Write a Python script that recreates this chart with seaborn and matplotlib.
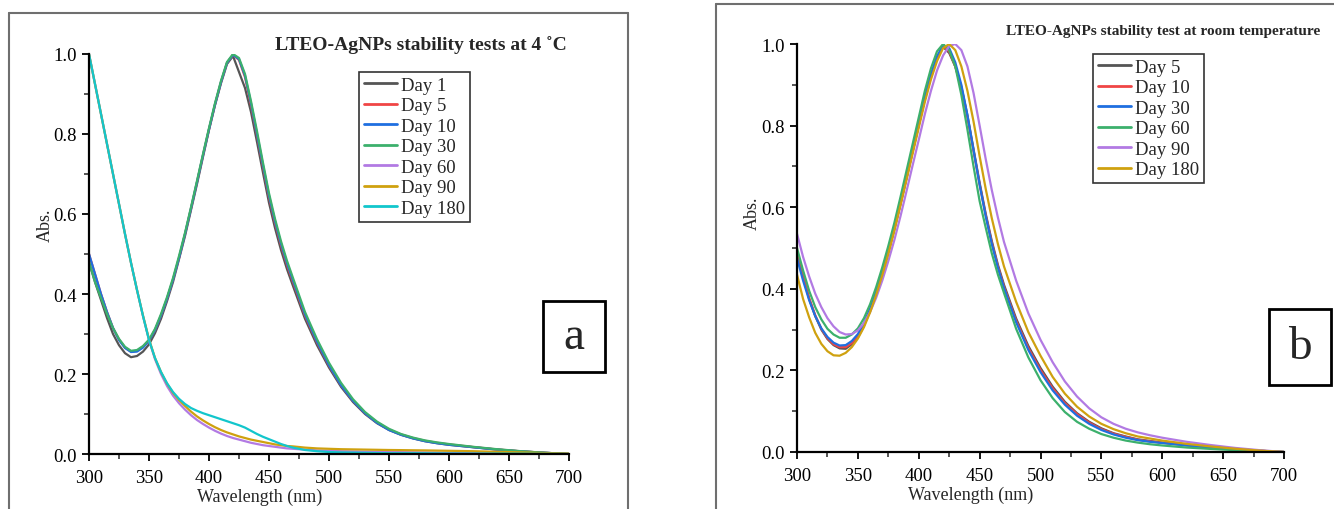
import numpy as np
import pandas as pd
import seaborn as sns
import matplotlib
matplotlib.use("Agg")
import matplotlib.pyplot as plt
from matplotlib.lines import Line2D
from matplotlib.patches import Rectangle
from matplotlib.ticker import MultipleLocator

# ---------------- data ----------------
wavelength = [300, 305, 310, 315, 320, 325, 330, 335, 340, 345, 350, 355, 360, 365, 370, 375, 380, 385,
              390, 395, 400, 405, 410, 415, 420, 425, 430, 435, 440, 445, 450, 455, 460, 465,
              470, 480, 490, 500, 510, 520, 530, 540, 550, 560, 570, 580, 590, 600,
              620, 640, 660, 680, 700]

# Panel a: stability at 4 C
a_labels = ["Day 1", "Day 5", "Day 10", "Day 30", "Day 60", "Day 90", "Day 180"]
a_day1 = [0.48, 0.43, 0.385, 0.34, 0.30, 0.272, 0.252, 0.242, 0.245, 0.256, 0.274, 0.302, 0.338, 0.382, 0.43, 0.487, 0.545, 0.61,
          0.675, 0.743, 0.81, 0.872, 0.927, 0.975, 0.995, 0.955, 0.915, 0.855, 0.78, 0.703, 0.628, 0.565, 0.51, 0.462,
          0.42, 0.338, 0.272, 0.216, 0.168, 0.13, 0.1, 0.077, 0.06, 0.048, 0.039, 0.032, 0.027, 0.023,
          0.017, 0.011, 0.0065, 0.003, 0.0]
a_day5 = [0.50, 0.45, 0.40, 0.355, 0.315, 0.286, 0.266, 0.256, 0.258, 0.268, 0.284, 0.31, 0.346, 0.388, 0.436, 0.49, 0.55, 0.614,
          0.68, 0.747, 0.812, 0.874, 0.93, 0.978, 0.998, 0.985, 0.942, 0.872, 0.797, 0.718, 0.642, 0.578, 0.522, 0.473,
          0.43, 0.346, 0.279, 0.221, 0.172, 0.133, 0.102, 0.079, 0.061, 0.049, 0.04, 0.033, 0.028, 0.024,
          0.0175, 0.0115, 0.0068, 0.003, 0.0]
a_day10 = [0.50, 0.45, 0.40, 0.355, 0.315, 0.285, 0.265, 0.255, 0.256, 0.266, 0.283, 0.31, 0.346, 0.388, 0.436, 0.49, 0.55, 0.614,
           0.68, 0.747, 0.812, 0.874, 0.93, 0.978, 0.998, 0.987, 0.946, 0.877, 0.80, 0.722, 0.646, 0.582, 0.526, 0.477,
           0.434, 0.349, 0.281, 0.222, 0.172, 0.133, 0.102, 0.078, 0.06, 0.048, 0.039, 0.032, 0.027, 0.023,
           0.017, 0.011, 0.0065, 0.003, 0.0]
a_day30 = [0.48, 0.43, 0.39, 0.35, 0.315, 0.288, 0.268, 0.258, 0.26, 0.27, 0.286, 0.313, 0.35, 0.392, 0.44, 0.495, 0.553, 0.617,
           0.683, 0.75, 0.815, 0.877, 0.933, 0.98, 1.0, 0.99, 0.95, 0.882, 0.807, 0.728, 0.652, 0.588, 0.532, 0.483,
           0.44, 0.355, 0.287, 0.228, 0.178, 0.137, 0.105, 0.081, 0.063, 0.05, 0.041, 0.034, 0.029, 0.025,
           0.018, 0.012, 0.007, 0.003, 0.0]
a_day60 = [1.0, 0.925, 0.85, 0.775, 0.70, 0.625, 0.55, 0.478, 0.41, 0.345, 0.285, 0.237, 0.20, 0.17, 0.146, 0.127, 0.111, 0.097,
           0.085, 0.075, 0.066, 0.058, 0.051, 0.045, 0.04, 0.036, 0.032, 0.028, 0.025, 0.022, 0.02, 0.018, 0.016, 0.014,
           0.013, 0.011, 0.009, 0.008, 0.007, 0.0065, 0.006, 0.0055, 0.005, 0.0047, 0.0043, 0.004, 0.0035, 0.003,
           0.0022, 0.0017, 0.0012, 0.0007, 0.0]
a_day90 = [1.0, 0.925, 0.85, 0.775, 0.70, 0.625, 0.55, 0.478, 0.41, 0.346, 0.287, 0.24, 0.205, 0.176, 0.153, 0.135, 0.12, 0.106,
           0.094, 0.084, 0.075, 0.067, 0.06, 0.054, 0.049, 0.044, 0.04, 0.036, 0.033, 0.03, 0.027, 0.024, 0.022, 0.02,
           0.019, 0.016, 0.014, 0.013, 0.012, 0.0115, 0.011, 0.0105, 0.01, 0.0097, 0.0093, 0.009, 0.0085, 0.008,
           0.007, 0.0055, 0.004, 0.0025, 0.001]
a_day180 = [1.0, 0.925, 0.85, 0.775, 0.70, 0.625, 0.55, 0.478, 0.41, 0.345, 0.285, 0.24, 0.205, 0.177, 0.155, 0.138, 0.125, 0.115,
            0.108, 0.102, 0.097, 0.092, 0.087, 0.082, 0.077, 0.072, 0.066, 0.058, 0.05, 0.043, 0.037, 0.031, 0.025, 0.02,
            0.016, 0.01, 0.007, 0.005, 0.004, 0.0035, 0.003, 0.0025, 0.002, 0.002, 0.002, 0.0018, 0.0015, 0.0012,
            0.001, 0.001, 0.0008, 0.0005, 0.0]

# Panel b: stability at room temperature
b_labels = ["Day 5", "Day 10", "Day 30", "Day 60", "Day 90", "Day 180"]
b_day5 = [0.49, 0.43, 0.375, 0.333, 0.30, 0.277, 0.262, 0.254, 0.253, 0.264, 0.281, 0.31, 0.346, 0.389, 0.437, 0.49, 0.547, 0.608,
          0.672, 0.737, 0.801, 0.865, 0.92, 0.965, 0.993, 0.978, 0.945, 0.895, 0.825, 0.742, 0.66, 0.584, 0.517, 0.459,
          0.41, 0.327, 0.26, 0.206, 0.16, 0.123, 0.095, 0.074, 0.058, 0.046, 0.038, 0.031, 0.027, 0.023,
          0.017, 0.011, 0.0065, 0.003, 0.0]
b_day10 = [0.49, 0.432, 0.377, 0.335, 0.302, 0.279, 0.264, 0.257, 0.257, 0.267, 0.283, 0.311, 0.346, 0.389, 0.437, 0.49, 0.547, 0.608,
           0.672, 0.737, 0.801, 0.865, 0.92, 0.965, 0.995, 0.982, 0.945, 0.892, 0.82, 0.738, 0.656, 0.58, 0.513, 0.455,
           0.405, 0.322, 0.255, 0.201, 0.156, 0.12, 0.093, 0.072, 0.056, 0.045, 0.037, 0.03, 0.026, 0.0225,
           0.0165, 0.011, 0.0065, 0.003, 0.0]
b_day30 = [0.475, 0.42, 0.372, 0.333, 0.303, 0.282, 0.268, 0.261, 0.262, 0.272, 0.289, 0.316, 0.351, 0.393, 0.441, 0.495, 0.552, 0.613,
           0.677, 0.742, 0.806, 0.87, 0.926, 0.97, 0.997, 0.99, 0.955, 0.90, 0.825, 0.74, 0.655, 0.578, 0.51, 0.452,
           0.402, 0.318, 0.25, 0.196, 0.151, 0.116, 0.089, 0.069, 0.054, 0.043, 0.035, 0.029, 0.025, 0.022,
           0.016, 0.011, 0.0065, 0.003, 0.0]
b_day60 = [0.50, 0.445, 0.395, 0.355, 0.325, 0.302, 0.288, 0.28, 0.28, 0.288, 0.303, 0.328, 0.362, 0.404, 0.452, 0.505, 0.562, 0.625,
           0.69, 0.755, 0.82, 0.885, 0.94, 0.982, 1.0, 0.985, 0.945, 0.875, 0.79, 0.70, 0.615, 0.55, 0.487, 0.435,
           0.39, 0.302, 0.232, 0.176, 0.132, 0.098, 0.074, 0.057, 0.044, 0.035, 0.028, 0.023, 0.019, 0.016,
           0.011, 0.0075, 0.0045, 0.002, 0.0]
b_day90 = [0.535, 0.478, 0.43, 0.388, 0.355, 0.328, 0.308, 0.294, 0.288, 0.289, 0.298, 0.316, 0.343, 0.378, 0.42, 0.468, 0.52, 0.578,
           0.64, 0.703, 0.765, 0.828, 0.885, 0.935, 0.972, 0.995, 1.0, 0.985, 0.945, 0.88, 0.80, 0.718, 0.642, 0.575,
           0.515, 0.42, 0.34, 0.275, 0.22, 0.173, 0.136, 0.107, 0.085, 0.069, 0.057, 0.048, 0.041, 0.035,
           0.025, 0.017, 0.01, 0.0045, 0.0]
b_day180 = [0.435, 0.375, 0.33, 0.292, 0.265, 0.247, 0.237, 0.236, 0.243, 0.257, 0.278, 0.306, 0.342, 0.385, 0.433, 0.486, 0.543, 0.605,
            0.668, 0.732, 0.795, 0.858, 0.913, 0.958, 0.99, 1.0, 0.985, 0.945, 0.885, 0.81, 0.725, 0.645, 0.573, 0.51,
            0.455, 0.368, 0.294, 0.236, 0.184, 0.143, 0.111, 0.087, 0.069, 0.056, 0.046, 0.038, 0.033, 0.028,
            0.02, 0.0135, 0.008, 0.0035, 0.0]

x_ticks = [300, 350, 400, 450, 500, 550, 600, 650, 700]
y_ticks = [0.0, 0.2, 0.4, 0.6, 0.8, 1.0]

title_a = "LTEO-AgNPs stability tests at 4 \u02daC"
title_b = "LTEO-AgNPs stability test at room temperature"

colors_a = ["#555555", "#f04545", "#1f6fe0", "#3cb06c", "#b27ae3", "#cfa10f", "#12c6cc"]
colors_b = ["#555555", "#f04545", "#1f6fe0", "#3cb06c", "#b27ae3", "#cfa10f"]


def long_frame(labels, series):
    rows = []
    for lab, vals in zip(labels, series):
        assert len(vals) == len(wavelength), (lab, len(vals))
        for w, v in zip(wavelength, vals):
            rows.append((lab, w, v))
    return pd.DataFrame(rows, columns=["Day", "Wavelength", "Abs"])


df_a = long_frame(a_labels, [a_day1, a_day5, a_day10, a_day30, a_day60, a_day90, a_day180])
df_b = long_frame(b_labels, [b_day5, b_day10, b_day30, b_day60, b_day90, b_day180])

# ---------------- style ----------------
sns.set_style("ticks")
plt.rcParams["font.family"] = ["Liberation Serif", "DejaVu Serif"]

W, H = 1334, 510
fig = plt.figure(figsize=(W / 100, H / 100), dpi=100)
fig.patch.set_facecolor("white")


def fx(px):
    return px / W


def fy(py):
    return 1 - py / H


ax_a = fig.add_axes([fx(89), fy(455), fx(569) - fx(89), fy(55) - fy(455)])
ax_b = fig.add_axes([fx(797), fy(453), fx(1284) - fx(797), fy(45) - fy(453)])


def style_axes(ax, df, labels, colors):
    sns.lineplot(data=df, x="Wavelength", y="Abs", hue="Day", hue_order=labels,
                 palette=colors, estimator=None, sort=False, linewidth=1.6, ax=ax)
    ax.set_xlim(300, 700)
    ax.set_ylim(0, 1.0)
    ax.set_xticks(x_ticks)
    ax.set_yticks(y_ticks)
    ax.set_yticklabels([f"{t:.1f}" for t in y_ticks])
    ax.xaxis.set_minor_locator(MultipleLocator(25))
    ax.yaxis.set_minor_locator(MultipleLocator(0.1))
    ax.tick_params(axis="both", which="major", direction="out", length=5, width=1.3,
                   labelsize=13.5, colors="black", pad=4)
    ax.tick_params(axis="x", which="major", pad=5.5)
    ax.tick_params(axis="both", which="minor", direction="out", length=3.5, width=1.1)
    for s in ["top", "right"]:
        ax.spines[s].set_visible(False)
    for s in ["left", "bottom"]:
        ax.spines[s].set_linewidth(1.6)
        ax.spines[s].set_color("black")
    ax.set_facecolor("white")
    ax.set_xlabel("Wavelength (nm)", fontsize=13)
    ax.set_ylabel("Abs.", fontsize=13)


style_axes(ax_a, df_a, a_labels, colors_a)
style_axes(ax_b, df_b, b_labels, colors_b)

ax_a.xaxis.set_label_coords(0.356, -0.083)
ax_a.yaxis.set_label_coords(-0.074, 0.575)
ax_b.xaxis.set_label_coords(0.357, -0.083)
ax_b.yaxis.set_label_coords(-0.074, 0.588)

# legends
for ax, labels, colors, loc_px in [
    (ax_a, a_labels, colors_a, (359, 73)),
    (ax_b, b_labels, colors_b, (1093, 55)),
]:
    handles = [Line2D([0], [0], color=c, lw=2.0) for c in colors]
    leg = ax.legend(handles, labels, loc="upper left",
                    bbox_to_anchor=(fx(loc_px[0]), fy(loc_px[1])),
                    bbox_transform=fig.transFigure,
                    fontsize=13.5, frameon=True, fancybox=False, shadow=False,
                    handlelength=1.8, handletextpad=0.2, labelspacing=0.18,
                    borderpad=0.25, borderaxespad=0.0)
    leg.get_frame().set_edgecolor("black")
    leg.get_frame().set_linewidth(1.2)

# titles
fig.text(fx(421), fy(45), title_a, ha="center", va="center", fontsize=14, fontweight="bold")
fig.text(fx(1163), fy(31), title_b, ha="center", va="center", fontsize=11, fontweight="bold")

# outer panel frames
frame_col = "#6f6f6f"
for (x0, y0, x1, y1) in [(9, 14, 628, 14), (9, 14, 9, 510), (628, 14, 628, 510),
                         (716, 5, 1334, 5), (716, 5, 716, 510)]:
    fig.add_artist(Line2D([fx(x0), fx(x1)], [fy(y0), fy(y1)], transform=fig.transFigure,
                          color=frame_col, lw=1.5))

# panel letter boxes
for (x0, y0, x1, y1, letter) in [(543, 302, 605, 373, "a"), (1269, 310, 1331, 386, "b")]:
    fig.add_artist(Rectangle((fx(x0), fy(y1)), fx(x1) - fx(x0), fy(y0) - fy(y1),
                             transform=fig.transFigure, fill=False, edgecolor="black", lw=2.0))
    fig.text(fx((x0 + x1) / 2), fy((y0 + y1) / 2), letter, ha="center", va="center", fontsize=34)

fig.savefig("out.png", dpi=100, facecolor="white")
